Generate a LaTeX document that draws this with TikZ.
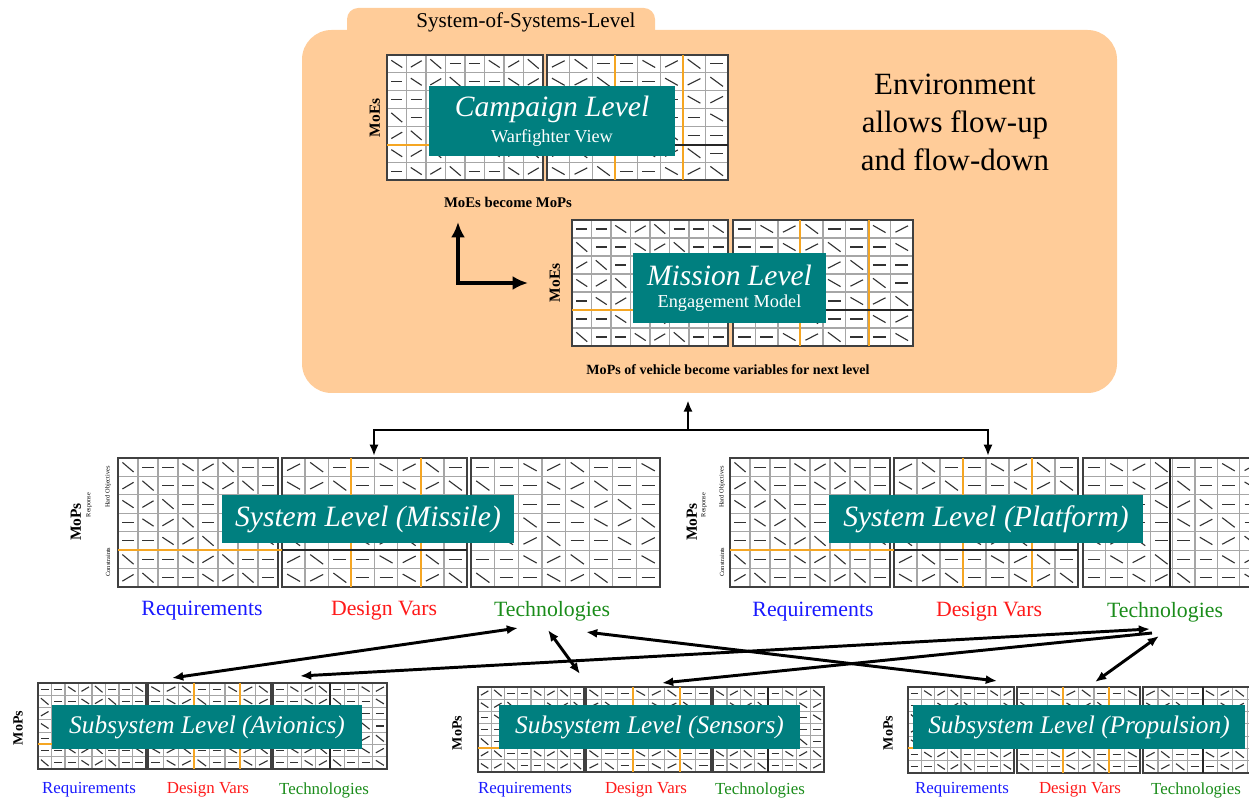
\documentclass[tikz,border=0pt]{standalone}
\usepackage{fontspec}
\setmainfont{Liberation Serif}
\usetikzlibrary{arrows.meta}

\definecolor{sosorange}{HTML}{FFCC99}
\definecolor{levelteal}{HTML}{007F7F}
\definecolor{gridorange}{HTML}{F5A623}
\definecolor{reqblue}{HTML}{1A1AFF}
\definecolor{dvred}{HTML}{FF1A1A}
\definecolor{techgreen}{HTML}{1A8C1A}

\begin{document}
\begin{tikzpicture}[x=0.025cm, y=-0.025cm,
    levelbox/.style={fill=levelteal, text=white, inner sep=0pt, align=center},
    gridline/.style={draw=black!35, line width=0.9pt},
    tickmark/.style={draw=black!80, line width=0.8pt},
    panelborder/.style={draw=black!75, line width=1.4pt},
    oline/.style={draw=gridorange, line width=1.1pt},
    darkline/.style={draw=black!85, line width=1.1pt},
    flowline/.style={line width=2.1pt, -{Latex[length=8pt,width=6.5pt]}},
    twoway/.style={line width=2.1pt, {Latex[length=8pt,width=6.5pt]}-{Latex[length=8pt,width=6.5pt]}},
    bigarrow/.style={line width=2.9pt, line join=miter, {Latex[length=11pt,width=10pt]}-{Latex[length=11pt,width=10pt]}},
    reqlabel/.style={text=reqblue},
    dvlabel/.style={text=dvred},
    techlabel/.style={text=techgreen},
    measure/.style={font=\bfseries\fontsize{11}{12}\selectfont, rotate=90},
    tinylabel/.style={font=\fontsize{4.5}{5}\selectfont, rotate=90}]

    % Variables for the picture size
    \def\px{0.025cm}
    \useasboundingbox (0,0) rectangle (1249,799);
    \clip (0,0) rectangle (1249,799);

    % One panel of the trade-off matrix: x0, y0, x1, y1, seed
    \def\tradepanel#1#2#3#4#5{%
        \fill[white] (#1,#2) rectangle (#3,#4);
        \foreach \col in {1,...,7}
            \draw[gridline] ({#1+\col*(#3-#1)/8},#2) -- ({#1+\col*(#3-#1)/8},#4);
        \foreach \row in {1,...,6}
            \draw[gridline] (#1,{#2+\row*(#4-#2)/7}) -- (#3,{#2+\row*(#4-#2)/7});
        \foreach \col in {0,...,7}
            \foreach \row in {0,...,6}{
                \pgfmathtruncatemacro\k{mod(\col*7+\row*3+#5,5)}
                \pgfmathsetmacro\dy{{0.2,0,-0.18,0,0.26}[\k]}
                \draw[tickmark] ({#1+(\col+0.22)*(#3-#1)/8},{#2+(\row+0.5-\dy)*(#4-#2)/7})
                    -- ({#1+(\col+0.78)*(#3-#1)/8},{#2+(\row+0.5+\dy)*(#4-#2)/7});
            }
        \draw[panelborder] (#1,#2) rectangle (#3,#4);
    }

    % System-of-systems environment
    \node[fill=sosorange, rounded corners=8pt, minimum width={308*\px}, minimum height={50*\px}, inner sep=0pt] (sostab) at (501,33) {};
    \node[fill=sosorange, rounded corners=21pt, minimum width={815*\px}, minimum height={363*\px}, inner sep=0pt] (sos) at (709.5,211.5) {};
    \node[font=\fontsize{15}{17}\selectfont] (soslabel) at (526,22) {System-of-Systems-Level};
    \node[align=center, font=\fontsize{22}{27}\selectfont] (envtext) at (955,122) {Environment\\allows flow-up\\and flow-down};

    % Campaign level
    \tradepanel{387}{55}{543}{180}{0}
    \tradepanel{547}{55}{728}{180}{2}
    \draw[oline] (387,145) -- (429,145);
    \draw[oline] (615,55) -- (615,180);
    \draw[oline] (683,55) -- (683,180);
    \draw[darkline] (547,145) -- (728,145);
    \node[levelbox, minimum width={246*\px}, minimum height={70*\px}] (campaign) at (552,121)
        {{\fontsize{21}{22}\selectfont\itshape Campaign Level}\\[4pt]{\fontsize{13}{14}\selectfont Warfighter View}};
    \node[measure] (moecamp) at (375,118) {MoEs};
    \node[font=\bfseries\fontsize{10.5}{12}\selectfont] (moemop) at (508,202) {MoEs become MoPs};

    % Mission level
    \tradepanel{572}{220}{728}{346}{1}
    \tradepanel{733}{220}{913}{346}{3}
    \draw[oline] (572,310) -- (633,310);
    \draw[oline] (800,220) -- (800,346);
    \draw[oline] (869,220) -- (869,346);
    \draw[darkline] (733,310) -- (913,310);
    \node[levelbox, minimum width={193*\px}, minimum height={70*\px}] (mission) at (729.5,288)
        {{\fontsize{21}{22}\selectfont\itshape Mission Level}\\[4pt]{\fontsize{13}{14}\selectfont Engagement Model}};
    \node[measure] (moemiss) at (555,283) {MoEs};
    \node[font=\bfseries\fontsize{10}{12}\selectfont] (mopvar) at (728,370) {MoPs of vehicle become variables for next level};

    % Flow between campaign and mission
    \coordinate (lcorner) at (458,283);
    \coordinate (ltop) at (458,222);
    \coordinate (lright) at (528,283);
    \draw[bigarrow] (ltop) -- (lcorner) -- (lright);

    % System level (missile)
    \tradepanel{118}{458}{278}{587}{4}
    \tradepanel{282}{458}{467}{587}{2}
    \tradepanel{471}{458}{660}{587}{1}
    \draw[oline] (118,550) -- (282,550);
    \draw[oline] (351,458) -- (351,587);
    \draw[oline] (421,458) -- (421,587);
    \draw[darkline] (282,550) -- (467,550);
    \node[levelbox, minimum width={292*\px}, minimum height={48*\px}, font=\fontsize{21}{22}\selectfont\itshape] (missile) at (368,519) {System Level (Missile)};
    \node[measure] (mopmiss) at (76,522) {MoPs};
    \node[tinylabel] (respmiss) at (89,505) {Response};
    \node[tinylabel] (hardmiss) at (108,487) {Hard Objectives};
    \node[tinylabel] (consmiss) at (108,562) {Constraints};
    \node[reqlabel, font=\fontsize{15.5}{17}\selectfont] (reqM) at (202,611) {Requirements};
    \node[dvlabel, font=\fontsize{15.5}{17}\selectfont] (dvM) at (384,611) {Design Vars};
    \node[techlabel, font=\fontsize{15.5}{17}\selectfont] (techM) at (552,611) {Technologies};

    % System level (platform)
    \tradepanel{730}{458}{890}{587}{4}
    \tradepanel{894}{458}{1078}{587}{2}
    \tradepanel{1083}{458}{1262}{587}{3}
    \draw[oline] (730,550) -- (894,550);
    \draw[oline] (963,458) -- (963,587);
    \draw[oline] (1032,458) -- (1032,587);
    \draw[darkline] (894,550) -- (1078,550);
    \draw[darkline] (1170,458) -- (1170,587);
    \node[levelbox, minimum width={314*\px}, minimum height={48*\px}, font=\fontsize{21}{22}\selectfont\itshape] (platform) at (986,519) {System Level (Platform)};
    \node[measure] (mopplat) at (692,522) {MoPs};
    \node[tinylabel] (respplat) at (704,505) {Response};
    \node[tinylabel] (hardplat) at (722,487) {Hard Objectives};
    \node[tinylabel] (consplat) at (722,562) {Constraints};
    \node[reqlabel, font=\fontsize{15.5}{17}\selectfont] (reqP) at (813,612) {Requirements};
    \node[dvlabel, font=\fontsize{15.5}{17}\selectfont] (dvP) at (989,612) {Design Vars};
    \node[techlabel, font=\fontsize{15.5}{17}\selectfont] (techP) at (1165,612) {Technologies};

    % Subsystem level (avionics)
    \tradepanel{38}{683}{146}{769}{1}
    \tradepanel{148}{683}{271}{769}{0}
    \tradepanel{273}{683}{387}{769}{3}
    \draw[oline] (38,744) -- (52,744);
    \draw[oline] (194,683) -- (194,769);
    \draw[oline] (240,683) -- (240,769);
    \draw[darkline] (330,683) -- (330,769);
    \node[levelbox, minimum width={310*\px}, minimum height={44*\px}, font=\fontsize{18}{20}\selectfont\itshape] (avionics) at (207,727) {Subsystem Level (Avionics)};
    \node[measure, font=\bfseries\fontsize{10}{11}\selectfont] (mopav) at (18,728) {MoPs};
    \node[reqlabel, font=\fontsize{12}{13}\selectfont] (reqA) at (89,790) {Requirements};
    \node[dvlabel, font=\fontsize{12}{13}\selectfont] (dvA) at (208,790) {Design Vars};
    \node[techlabel, font=\fontsize{12}{13}\selectfont] (techA) at (324,790) {Technologies};

    % Subsystem level (sensors)
    \tradepanel{478}{687}{584}{772}{2}
    \tradepanel{586}{687}{711}{772}{4}
    \tradepanel{713}{687}{824}{772}{0}
    \draw[oline] (478,748) -- (499,748);
    \draw[oline] (633,687) -- (633,772);
    \draw[oline] (680,687) -- (680,772);
    \draw[darkline] (768,687) -- (768,772);
    \node[levelbox, minimum width={301*\px}, minimum height={44*\px}, font=\fontsize{18}{20}\selectfont\itshape] (sensors) at (649.5,727) {Subsystem Level (Sensors)};
    \node[measure, font=\bfseries\fontsize{10}{11}\selectfont] (mopse) at (457,733) {MoPs};
    \node[reqlabel, font=\fontsize{12}{13}\selectfont] (reqS) at (525,790) {Requirements};
    \node[dvlabel, font=\fontsize{12}{13}\selectfont] (dvS) at (646,790) {Design Vars};
    \node[techlabel, font=\fontsize{12}{13}\selectfont] (techS) at (760,790) {Technologies};

    % Subsystem level (propulsion)
    \tradepanel{908}{687}{1014}{773}{3}
    \tradepanel{1017}{687}{1140}{773}{1}
    \tradepanel{1143}{687}{1262}{773}{2}
    \draw[oline] (908,748) -- (913,748);
    \draw[oline] (1063,687) -- (1063,773);
    \draw[oline] (1109,687) -- (1109,773);
    \draw[darkline] (1203,687) -- (1203,773);
    \node[levelbox, minimum width={332*\px}, minimum height={44*\px}, font=\fontsize{18}{20}\selectfont\itshape] (propulsion) at (1079,727) {Subsystem Level (Propulsion)};
    \node[measure, font=\bfseries\fontsize{10}{11}\selectfont] (mopprop) at (888,733) {MoPs};
    \node[reqlabel, font=\fontsize{12}{13}\selectfont] (reqR) at (962,790) {Requirements};
    \node[dvlabel, font=\fontsize{12}{13}\selectfont] (dvR) at (1080,790) {Design Vars};
    \node[techlabel, font=\fontsize{12}{13}\selectfont] (techR) at (1196,790) {Technologies};

    % Flow between the system levels and the environment
    \coordinate (hub) at (688,430);
    \coordinate (misstop) at (374,456);
    \coordinate (plattop) at (988,456);
    \draw[flowline, shorten >=5pt] (hub) -- (hub |- sos.south);
    \draw[flowline] (hub) -| (misstop);
    \draw[flowline] (hub) -| (plattop);

    % Technology links down to the subsystems
    \coordinate (techMa) at (518,628);
    \coordinate (techMb) at (548,630);
    \coordinate (techMc) at (586,632);
    \coordinate (techPa) at (1150,629);
    \coordinate (techPb) at (1152,633);
    \coordinate (techPc) at (1159,636);
    \coordinate (avtop1) at (172,678);
    \coordinate (avtop2) at (300,676);
    \coordinate (setop2) at (580,674);
    \coordinate (setop3) at (662,683);
    \coordinate (prtop1) at (997,681);
    \coordinate (prtop2) at (1095,682);
    \draw[twoway] (techMa) -- (avtop1);
    \draw[twoway] (techMb) -- (setop2);
    \draw[twoway] (techMc) -- (prtop1);
    \draw[twoway] (techPa) -- (avtop2);
    \draw[flowline] (techPb) -- (setop3);
    \draw[twoway] (techPc) -- (prtop2);

\end{tikzpicture}
\end{document}
